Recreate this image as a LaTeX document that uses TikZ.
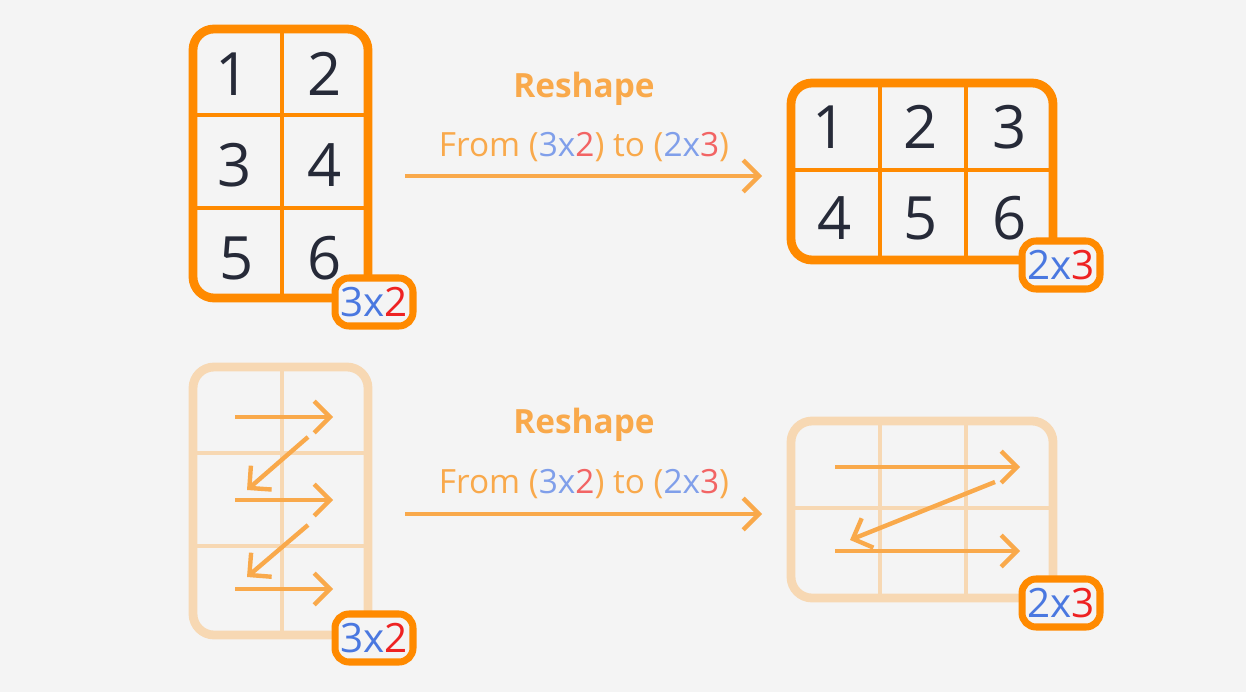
\documentclass[tikz,border=0pt]{standalone}
\usepackage{fontspec}
\setmainfont{Open Sans}
\usetikzlibrary{arrows.meta, positioning}
\definecolor{bg}{HTML}{F4F4F4}
\definecolor{deeporange}{HTML}{FF8A00}
\definecolor{softorange}{HTML}{F9A94B}
\definecolor{paleorange}{HTML}{F7D8B3}
\definecolor{dimblue}{HTML}{4A78E0}
\definecolor{dimred}{HTML}{EE2222}
\definecolor{lightblue}{HTML}{809FEA}
\definecolor{lightred}{HTML}{F26464}
\definecolor{ink}{HTML}{262A38}
\tikzset{grid/.style={line width=5pt, rounded corners=12pt}}
\tikzset{inner/.style={line width=2.5pt}}
\tikzset{flow/.style={softorange, line width=2.5pt, -{Straight Barb[length=9pt,width=18pt]}}}
\tikzset{num/.style={font=\fontsize{34}{34}\selectfont, text=ink}}
\tikzset{tag/.style={draw=deeporange, line width=4pt, fill=bg, rounded corners=8pt, minimum width=1.56cm, minimum height=0.96cm, inner sep=0pt, font=\fontsize{23}{23}\selectfont}}

\begin{document}
\begin{tikzpicture}[x=0.02cm, y=-0.02cm]
	% background
	\fill[bg] (0,0) rectangle (1246,692);

	% TOP LEFT 3x2
	\draw[deeporange, inner] (282,29) -- (282,298) (193,115) -- (368,115) (193,208) -- (368,208);
	\draw[deeporange, grid] (193,29) rectangle (368,298);
	\node[num] (a1) at (233,74) {1};	\node[num] (a2) at (325,74) {2};
	\node[num] (a3) at (235,165) {3};	\node[num] (a4) at (325,165) {4};
	\node[num] (a5) at (237,258) {5};	\node[num] (a6) at (325,258) {6};
	\node[tag] (tagtl) at (374,302) {\textcolor{dimblue}{3x}\textcolor{dimred}{2}};

	% TOP RIGHT 2x3
	\draw[deeporange, inner] (880,83) -- (880,260) (966,83) -- (966,260) (791,170) -- (1053,170);
	\draw[deeporange, grid] (791,83) rectangle (1053,260);
	\node[num] (b1) at (830,127) {1};	\node[num] (b2) at (921,127) {2};	\node[num] (b3) at (1010,127) {3};
	\node[num] (b4) at (835,218) {4};	\node[num] (b5) at (921,218) {5};	\node[num] (b6) at (1010,218) {6};
	\node[tag] (tagtr) at (1061,265) {\textcolor{dimblue}{2x}\textcolor{dimred}{3}};

	% TOP ARROW
	\coordinate (topfrom) at (405,176);	\coordinate (topto) at (762,176);
	\draw[flow] (topfrom) -- (topto);
	\node[font=\bfseries\fontsize{19}{19}\selectfont, text=softorange] (title1) at (584,89) {Reshape};
	\node[font=\fontsize{19}{19}\selectfont, text=softorange] (sub1) at (584,147) {From (\textcolor{lightblue}{3x}\textcolor{lightred}{2}) to (\textcolor{lightblue}{2x}\textcolor{lightred}{3})};

	% BOTTOM LEFT
	\draw[paleorange, inner] (282,367) -- (282,635) (193,453) -- (368,453) (193,546) -- (368,546);
	\draw[paleorange, grid] (193,367) rectangle (368,635);
	\coordinate (l1s) at (235,417);	\coordinate (l1e) at (333,417);
	\coordinate (d1s) at (308,437);	\coordinate (d1e) at (247,490);
	\coordinate (l2s) at (235,500);	\coordinate (l2e) at (333,500);
	\coordinate (d2s) at (308,525);	\coordinate (d2e) at (247,577);
	\coordinate (l3s) at (235,589);	\coordinate (l3e) at (333,589);
	\draw[flow] (l1s) -- (l1e);	\draw[flow] (d1s) -- (d1e);
	\draw[flow] (l2s) -- (l2e);	\draw[flow] (d2s) -- (d2e);
	\draw[flow] (l3s) -- (l3e);
	\node[tag] (tagbl) at (374,638) {\textcolor{dimblue}{3x}\textcolor{dimred}{2}};

	% BOTTOM RIGHT
	\draw[paleorange, inner] (880,421) -- (880,598) (966,421) -- (966,598) (791,508) -- (1053,508);
	\draw[paleorange, grid] (791,421) rectangle (1053,598);
	\coordinate (r1s) at (835,467);	\coordinate (r1e) at (1020,467);
	\coordinate (rds) at (995,482);	\coordinate (rde) at (850,540);
	\coordinate (r2s) at (835,551);	\coordinate (r2e) at (1020,551);
	\draw[flow] (r1s) -- (r1e);	\draw[flow] (rds) -- (rde);	\draw[flow] (r2s) -- (r2e);
	\node[tag] (tagbr) at (1061,603) {\textcolor{dimblue}{2x}\textcolor{dimred}{3}};

	% BOTTOM ARROW
	\coordinate (botfrom) at (405,514);	\coordinate (botto) at (762,514);
	\draw[flow] (botfrom) -- (botto);
	\node[font=\bfseries\fontsize{19}{19}\selectfont, text=softorange] (title2) at (584,425) {Reshape};
	\node[font=\fontsize{19}{19}\selectfont, text=softorange] (sub2) at (584,484) {From (\textcolor{lightblue}{3x}\textcolor{lightred}{2}) to (\textcolor{lightblue}{2x}\textcolor{lightred}{3})};
\end{tikzpicture}
\end{document}
